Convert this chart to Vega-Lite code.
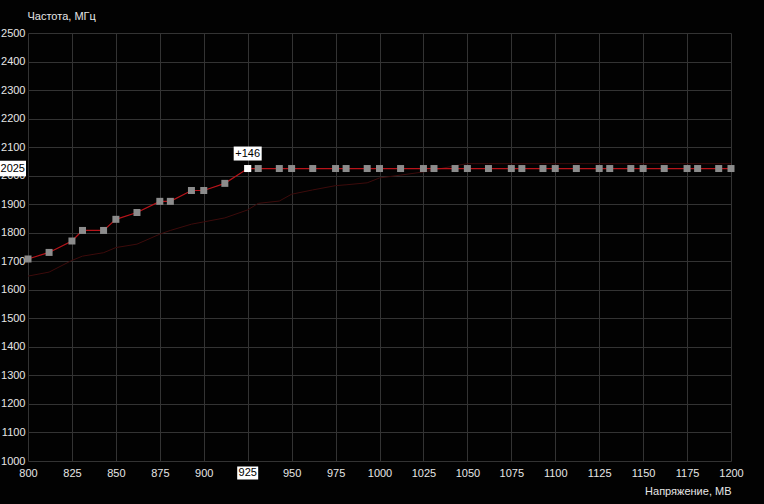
{
  "$schema": "https://vega.github.io/schema/vega-lite/v6.json",
  "width": 703,
  "height": 428,
  "autosize": {"type": "none"},
  "padding": {"left": 28, "top": 33, "right": 33, "bottom": 43},
  "background": "#020202",
  "config": {
    "view": {"stroke": null},
    "font": "Liberation Sans",
    "axis": {
      "domain": false,
      "ticks": false,
      "tickSize": 0,
      "gridColor": "#333333",
      "gridWidth": 1,
      "gridOpacity": 1,
      "labelColor": "#e6e6e6",
      "labelFontSize": 11,
      "labelFont": "Liberation Sans",
      "titleColor": "#e6e6e6",
      "titleFontSize": 11,
      "titleFont": "Liberation Sans",
      "titleFontWeight": "normal"
    }
  },
  "datasets": {
    "curve": [
      {"v": 800, "f": 1708}, {"v": 812, "f": 1731}, {"v": 825, "f": 1771}, {"v": 831, "f": 1808},
      {"v": 843, "f": 1808}, {"v": 850, "f": 1847}, {"v": 862, "f": 1871}, {"v": 875, "f": 1910},
      {"v": 881, "f": 1910}, {"v": 893, "f": 1948}, {"v": 900, "f": 1948}, {"v": 912, "f": 1973},
      {"v": 925, "f": 2025}, {"v": 931, "f": 2025}, {"v": 943, "f": 2025}, {"v": 950, "f": 2025},
      {"v": 962, "f": 2025}, {"v": 975, "f": 2025}, {"v": 981, "f": 2025}, {"v": 993, "f": 2025},
      {"v": 1000, "f": 2025}, {"v": 1012, "f": 2025}, {"v": 1025, "f": 2025}, {"v": 1031, "f": 2025},
      {"v": 1043, "f": 2025}, {"v": 1050, "f": 2025}, {"v": 1062, "f": 2025}, {"v": 1075, "f": 2025},
      {"v": 1081, "f": 2025}, {"v": 1093, "f": 2025}, {"v": 1100, "f": 2025}, {"v": 1112, "f": 2025},
      {"v": 1125, "f": 2025}, {"v": 1131, "f": 2025}, {"v": 1143, "f": 2025}, {"v": 1150, "f": 2025},
      {"v": 1162, "f": 2025}, {"v": 1175, "f": 2025}, {"v": 1181, "f": 2025}, {"v": 1193, "f": 2025},
      {"v": 1200, "f": 2025}
    ],
    "base": [
      {"v": 800, "f": 1648}, {"v": 812, "f": 1662}, {"v": 825, "f": 1703}, {"v": 831, "f": 1718},
      {"v": 843, "f": 1730}, {"v": 850, "f": 1748}, {"v": 862, "f": 1760}, {"v": 875, "f": 1795},
      {"v": 881, "f": 1808}, {"v": 893, "f": 1830}, {"v": 900, "f": 1838}, {"v": 912, "f": 1852},
      {"v": 925, "f": 1880}, {"v": 931, "f": 1903}, {"v": 943, "f": 1911}, {"v": 950, "f": 1935},
      {"v": 962, "f": 1950}, {"v": 975, "f": 1965}, {"v": 981, "f": 1968}, {"v": 993, "f": 1975},
      {"v": 1000, "f": 1992}, {"v": 1012, "f": 2002}, {"v": 1025, "f": 2013}, {"v": 1031, "f": 2020},
      {"v": 1043, "f": 2035}, {"v": 1050, "f": 2042}, {"v": 1062, "f": 2042}, {"v": 1100, "f": 2042},
      {"v": 1150, "f": 2042}, {"v": 1200, "f": 2042}
    ],
    "sel": [{"v": 925, "f": 2025, "label": "+146"}],
    "ysel": [{"v": 800, "f": 2025, "label": "2025"}],
    "xsel": [{"v": 925, "f": 1000, "label": "925"}]
  },
  "encoding": {
    "x": {
      "field": "v", "type": "quantitative",
      "scale": {"domain": [800, 1200], "nice": false, "zero": false},
      "axis": {
        "values": [800, 825, 850, 875, 900, 925, 950, 975, 1000, 1025, 1050, 1075, 1100, 1125, 1150, 1175, 1200],
        "format": "d",
        "labelPadding": 6,
        "labelFlush": false,
        "labelOverlap": false,
        "title": "Напряжение, МВ",
        "titleAnchor": null,
        "titleX": 703,
        "titleY": 30,
        "titleAlign": "right",
        "titleBaseline": "middle"
      }
    },
    "y": {
      "field": "f", "type": "quantitative",
      "scale": {"domain": [1000, 2500], "nice": false, "zero": false},
      "axis": {
        "values": [1000, 1100, 1200, 1300, 1400, 1500, 1600, 1700, 1800, 1900, 2000, 2100, 2200, 2300, 2400, 2500],
        "format": "d",
        "labelPadding": 3,
        "labelFlush": false,
        "labelOverlap": false,
        "title": "Частота, МГц",
        "titleAngle": 0,
        "titleAnchor": null,
        "titleX": -1,
        "titleY": -17,
        "titleAlign": "left",
        "titleBaseline": "middle"
      }
    }
  },
  "layer": [
    {
      "data": {"name": "base"},
      "mark": {"type": "line", "color": "#3d0b0b", "strokeWidth": 1, "clip": true}
    },
    {
      "data": {"name": "curve"},
      "mark": {"type": "line", "color": "#b8141a", "strokeWidth": 1.2}
    },
    {
      "data": {"name": "curve"},
      "mark": {"type": "point", "shape": "square", "filled": true, "size": 49, "color": "#8c8c8c", "opacity": 1}
    },
    {
      "data": {"name": "sel"},
      "mark": {"type": "point", "shape": "square", "filled": true, "size": 49, "color": "#ffffff", "opacity": 1}
    },
    {
      "data": {"name": "sel"},
      "mark": {"type": "point", "shape": "M-1,-0.5H1V0.5H-1Z", "filled": true, "size": 784, "color": "#ffffff", "opacity": 1, "yOffset": -15}
    },
    {
      "data": {"name": "sel"},
      "mark": {"type": "text", "color": "#000000", "fontSize": 11, "align": "center", "baseline": "middle", "dy": -15},
      "encoding": {"text": {"field": "label"}}
    },
    {
      "data": {"name": "ysel"},
      "mark": {"type": "point", "shape": "M-1,-0.6H1V0.6H-1Z", "filled": true, "size": 676, "color": "#ffffff", "opacity": 1, "xOffset": -15, "clip": false}
    },
    {
      "data": {"name": "ysel"},
      "mark": {"type": "text", "color": "#000000", "fontSize": 11, "align": "right", "baseline": "middle", "dx": -3},
      "encoding": {"text": {"field": "label"}}
    },
    {
      "data": {"name": "xsel"},
      "mark": {"type": "point", "shape": "M-1,-0.62H1V0.62H-1Z", "filled": true, "size": 441, "color": "#ffffff", "opacity": 1, "yOffset": 12}
    },
    {
      "data": {"name": "xsel"},
      "mark": {"type": "text", "color": "#000000", "fontSize": 11, "align": "center", "baseline": "middle", "dy": 12},
      "encoding": {"text": {"field": "label"}}
    }
  ]
}
